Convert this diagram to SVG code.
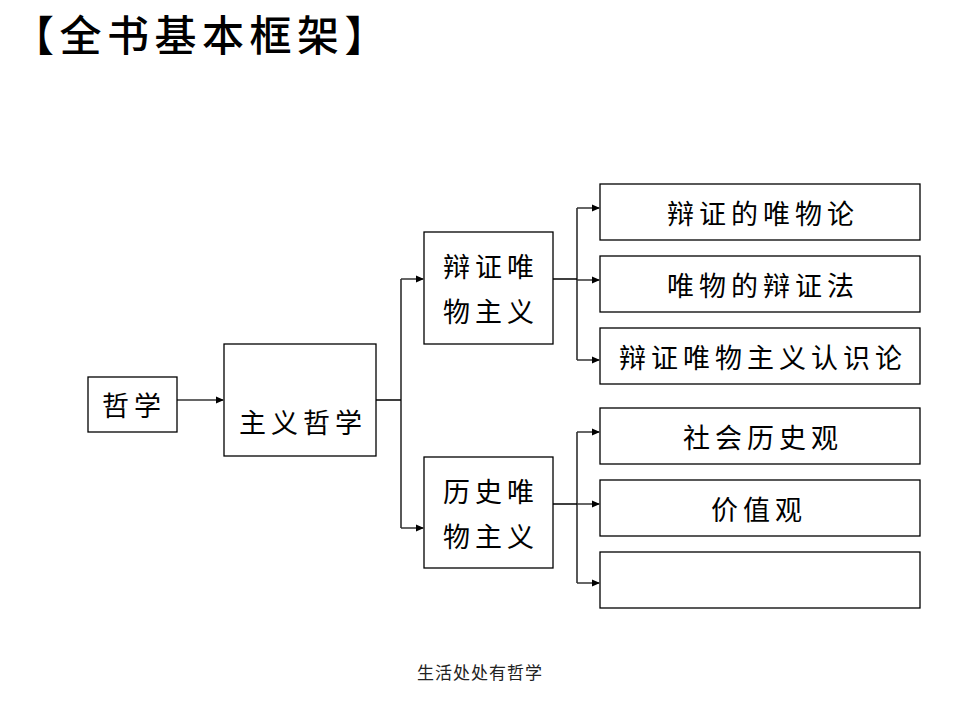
<svg xmlns="http://www.w3.org/2000/svg" width="960" height="720" viewBox="0 0 960 720">
<style>
.box{fill:#fff;stroke:#000;stroke-width:1.3}
.t{font-family:"Noto Sans CJK SC","Noto Sans CJK TC",sans-serif;font-size:27px;fill:#000;text-anchor:middle;dominant-baseline:central;letter-spacing:5px}
.ln{fill:none;stroke:#000;stroke-width:1.3}
.ar{fill:none;stroke:#333;stroke-width:1.5;marker-end:url(#ah)}
</style>
<defs>
<marker id="ah" markerWidth="8" markerHeight="8" refX="7" refY="4" orient="auto" markerUnits="userSpaceOnUse">
<path d="M0,0.5 L8,4 L0,7.5 Z" fill="#000"/>
</marker>
</defs>
<rect width="960" height="720" fill="#fff"/>
<text x="12" y="32" style="font-family:'Noto Sans CJK SC',sans-serif;font-size:42px;font-weight:500;dominant-baseline:central;letter-spacing:5.5px">【全书基本框架】</text>

<g id="connectors">
<path class="ar" d="M177,400 H223"/>
<path class="ln" d="M376,400 H401 M401,279 V528"/>
<path class="ar" d="M401,279 H423"/>
<path class="ar" d="M401,528 H423"/>
<path class="ln" d="M553,279 H577 M577,208 V360"/>
<path class="ar" d="M577,208 H599"/>
<path class="ar" d="M577,280 H599"/>
<path class="ar" d="M577,360 H599"/>
<path class="ln" d="M553,504 H577 M577,432 V583"/>
<path class="ar" d="M577,432 H599"/>
<path class="ar" d="M577,504 H599"/>
<path class="ar" d="M577,583 H599"/>
</g>

<g id="n-zhexue"><rect class="box" x="88" y="377" width="89" height="55"/><text class="t" x="134" y="404">哲学</text></g>
<g id="n-zhuyizhexue"><rect class="box" x="224" y="344" width="152" height="112"/><text class="t" x="303" y="421">主义哲学</text></g>
<g id="n-bianzheng"><rect class="box" x="424" y="232" width="129" height="112"/><text class="t" x="491" y="265">辩证唯</text><text class="t" x="491" y="310">物主义</text></g>
<g id="n-lishi"><rect class="box" x="424" y="457" width="129" height="111"/><text class="t" x="491" y="490">历史唯</text><text class="t" x="491" y="535">物主义</text></g>
<g id="n-r1"><rect class="box" x="600" y="184" width="320" height="56"/><text class="t" x="763" y="212">辩证的唯物论</text></g>
<g id="n-r2"><rect class="box" x="600" y="256" width="320" height="56"/><text class="t" x="763" y="284">唯物的辩证法</text></g>
<g id="n-r3"><rect class="box" x="600" y="328" width="320" height="56"/><text class="t" x="763" y="356">辩证唯物主义认识论</text></g>
<g id="n-r4"><rect class="box" x="600" y="408" width="320" height="56"/><text class="t" x="763" y="436">社会历史观</text></g>
<g id="n-r5"><rect class="box" x="600" y="480" width="320" height="56"/><text class="t" x="759" y="508">价值观</text></g>
<g id="n-r6"><rect class="box" x="600" y="552" width="320" height="56"/></g>

<text x="480" y="671" style="font-family:'Noto Sans CJK SC',sans-serif;font-size:17px;fill:#222;text-anchor:middle;dominant-baseline:central;letter-spacing:1px">生活处处有哲学</text>
</svg>
